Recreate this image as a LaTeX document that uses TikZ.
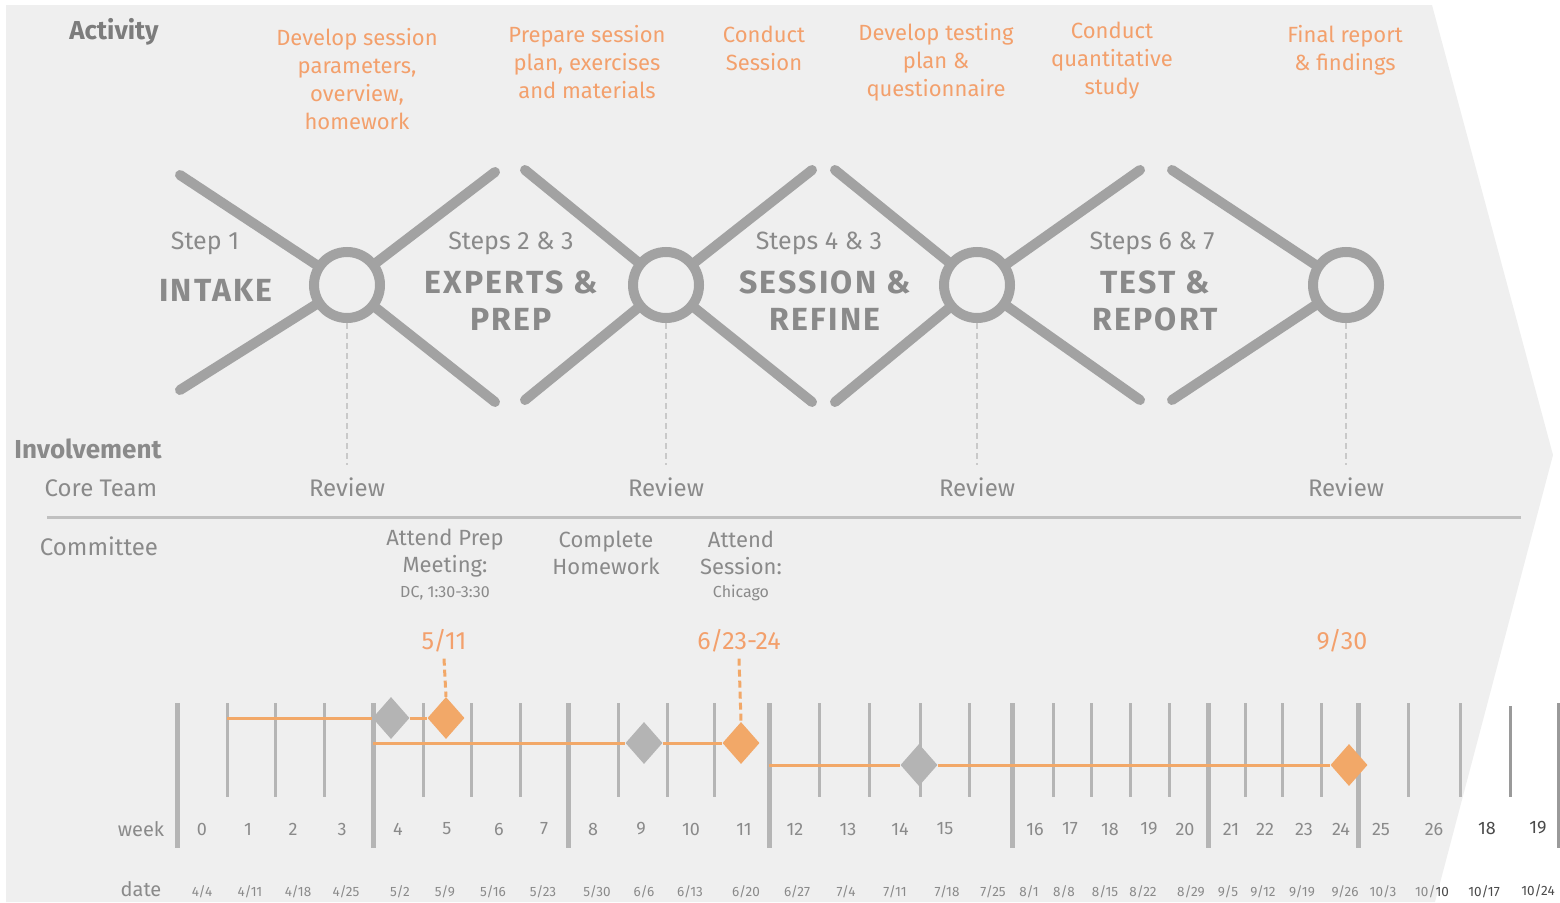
\documentclass[tikz,border=0pt]{standalone}
\usepackage{fontspec}
\setmainfont{Fira Sans}
\usetikzlibrary{shapes.geometric}

\definecolor{panelgray}{HTML}{EFEFEF}
\definecolor{armgray}{HTML}{A2A2A2}
\definecolor{labelgray}{HTML}{8A8A8A}
\definecolor{tickgray}{HTML}{B5B5B5}
\definecolor{darktick}{HTML}{9A9A9A}
\definecolor{dashgray}{HTML}{C9C9C9}
\definecolor{planorange}{HTML}{F2A868}
\definecolor{noteorange}{HTML}{F3A06C}
\definecolor{markgray}{HTML}{B4B4B4}
\definecolor{darklabel}{HTML}{4A4A4A}

\begin{document}
\begin{tikzpicture}[x=1pt, y=-1pt,
    activity/.style={text=noteorange, align=center, inner sep=0pt, font=\fontsize{22}{28}\selectfont},
    heading/.style={text=labelgray, inner sep=0pt, font=\fontsize{24}{28}\selectfont},
    steplabel/.style={text=labelgray, inner sep=0pt, font=\fontsize{25}{30}\selectfont},
    phase/.style={text=labelgray, align=center, inner sep=0pt, font=\fontsize{32}{37}\selectfont\bfseries\addfontfeatures{LetterSpace=7}},
    arm/.style={armgray, line width=10pt, line cap=round},
    hub/.style={circle, draw=armgray, fill=panelgray, line width=10pt, minimum size=66pt, inner sep=0pt},
    reviewlink/.style={dashgray, line width=2pt, dash pattern=on 6pt off 4pt, shorten >=12pt},
    task/.style={text=labelgray, align=center, inner sep=0pt, font=\fontsize{22}{27}\selectfont},
    smallnote/.style={text=labelgray, inner sep=0pt, font=\fontsize{16}{18}\selectfont},
    bigtick/.style={tickgray, line width=5pt},
    smalltick/.style={tickgray, line width=3pt},
    planline/.style={planorange, line width=3pt},
    milestone/.style={diamond, fill=#1, minimum width=37pt, minimum height=42pt, inner sep=0pt},
    datelink/.style={planorange, line width=3pt, dash pattern=on 7pt off 4pt},
    weeknum/.style={text=labelgray, inner sep=0pt, font=\fontsize{18}{20}\selectfont},
    daynum/.style={text=labelgray, inner sep=0pt, font=\fontsize{13.5}{15}\selectfont},
    keydate/.style={text=noteorange, inner sep=0pt, font=\fontsize{25}{28}\selectfont}]

    % panel
    \useasboundingbox (0,0) rectangle (1560,902);
    \fill[panelgray] (6,5) -- (1432,5) -- (1553,455) -- (1435,902) -- (6,902) -- cycle;

    % activity row
    \node[heading, font=\fontsize{26}{28}\selectfont\bfseries, text=labelgray!90!black] (activity) at (114,32) {Activity};
    \node[activity] (a1) at (357,79) {Develop session\\parameters,\\overview,\\homework};
    \node[activity] (a2) at (587,62) {Prepare session\\plan, exercises\\and materials};
    \node[activity] (a3) at (764,48) {Conduct\\Session};
    \node[activity] (a4) at (936,62) {Develop testing\\plan \&\\questionnaire};
    \node[activity] (a5) at (1112,61) {Conduct\\quantitative\\study};
    \node[activity] (a6) at (1345,50) {Final report\\\& findings};

    % hubs and arms
    \coordinate (c1) at (347,285);
    \coordinate (c2) at (666,285);
    \coordinate (c3) at (977,285);
    \coordinate (c4) at (1346,285);
    \draw[arm] (180,175) -- (c1) -- (495,172);
    \draw[arm] (180,390) -- (c1) -- (495,402);
    \draw[arm] (525,170) -- (c2) -- (812,170);
    \draw[arm] (525,400) -- (c2) -- (812,402);
    \draw[arm] (835,170) -- (c3) -- (1140,170);
    \draw[arm] (835,402) -- (c3) -- (1140,400);
    \draw[arm] (1172,170) -- (c4);
    \draw[arm] (1172,400) -- (c4);
    \node[hub] (h1) at (c1) {};
    \node[hub] (h2) at (c2) {};
    \node[hub] (h3) at (c3) {};
    \node[hub] (h4) at (c4) {};

    % steps
    \node[steplabel] (s1) at (205,243) {Step 1};
    \node[phase] (p1) at (216,290) {INTAKE};
    \node[steplabel] (s2) at (511,243) {Steps 2 \& 3};
    \node[phase] (p2) at (511,301) {EXPERTS \&\\PREP};
    \node[steplabel] (s3) at (819,243) {Steps 4 \& 3};
    \node[phase] (p3) at (825,301) {SESSION \&\\REFINE};
    \node[steplabel] (s4) at (1152,243) {Steps 6 \& 7};
    \node[phase] (p4) at (1155,301) {TEST \&\\REPORT};

    % involvement
    \node[heading, font=\fontsize{26}{28}\selectfont\bfseries] (involve) at (88,449) {Involvement};
    \node[heading] (core) at (101,488) {Core Team};
    \node[heading] (r1) at (347,487) {Review};
    \node[heading] (r2) at (666,487) {Review};
    \node[heading] (r3) at (977,487) {Review};
    \node[heading] (r4) at (1346,487) {Review};
    \foreach \i in {1,...,4}
        \draw[reviewlink] (h\i.south) -- (r\i.north);
    \draw[tickgray!85, line width=3pt] (47,517) -- (1521,517);

    \node[heading] (committee) at (99,546) {Committee};
    \node[task] (k1) at (445,553) {Attend Prep\\Meeting:};
    \node[smallnote] (k1n) at (445,593) {DC, 1:30-3:30};
    \node[task] (k2) at (606,553) {Complete\\Homework};
    \node[task] (k3) at (741,553) {Attend\\Session:};
    \node[smallnote] (k3n) at (741,593) {Chicago};

    % timeline ticks
    \foreach \x in {177,373,568,769,1012,1208,1358}
        \draw[bigtick] (\x,703) -- (\x,848);
    \foreach \x in {227,275,324,423,471,520,618,667,714,819,869,920,969,1053,1091,1130,1169,1245,1282,1321,1408,1460}
        \draw[smalltick] (\x,703) -- (\x,797);
    \draw[darktick, line width=3pt] (1510,706) -- (1510,797);
    \draw[darktick, line width=4pt] (1559,703) -- (1559,848);

    % plan bars and milestones
    \coordinate (b1) at (227,718);
    \coordinate (b2) at (373,743);
    \coordinate (b3) at (769,765);
    \node[milestone=markgray] (g1) at (391,718) {};
    \node[milestone=planorange] (m1) at (446,718) {};
    \node[milestone=markgray] (g2) at (644,743) {};
    \node[milestone=planorange] (m2) at (741,743) {};
    \node[milestone=markgray] (g3) at (919,765) {};
    \node[milestone=planorange] (m3) at (1349,765) {};
    \draw[planline] (b1) -- (g1.west);
    \draw[planline] (g1.east) -- (m1.west);
    \draw[planline] (b2) -- (g2.west);
    \draw[planline] (g2.east) -- (m2.west);
    \draw[planline] (b3) -- (g3.west);
    \draw[planline] (g3.east) -- (m3.west);

    % key dates
    \node[keydate] (kd1) at (444,641) {5/11};
    \node[keydate] (kd2) at (739,641) {6/23-24};
    \node[keydate] (kd3) at (1342,641) {9/30};
    \draw[datelink] ([yshift=-6pt]kd1.south) -- (m1.north);
    \draw[datelink] ([yshift=-6pt]kd2.south) -- (m2.north);

    % week numbers
    \node[weeknum, font=\fontsize{20}{22}\selectfont] (weeklabel) at (141,829) {week};
    \foreach \x/\w in {202/0,248/1,293/2,342/3,398/4,447/5,499/6,544/7,593/8,641/9,691/10,744/11,795/12,848/13,900/14,945/15,1035/16,1070/17,1110/18,1149/19,1185/20,1231/21,1265/22,1304/23,1341/24,1381/25,1434/26}
        \node[weeknum] (w\w) at (\x,829) {\w};
    \node[weeknum, text=darklabel] (wa) at (1487,828) {18};
    \node[weeknum, text=darklabel] (wb) at (1538,828) {19};

    % dates
    \node[weeknum, font=\fontsize{20}{22}\selectfont] (datelabel) at (141,889) {date};
    \foreach \x/\m/\d in {202/4/4,250/4/11,298/4/18,346/4/25,400/5/2,445/5/9,493/5/16,543/5/23,597/5/30,644/6/6,690/6/13,746/6/20,797/6/27,846/7/4,895/7/11,947/7/18,993/7/25,1029/8/1,1064/8/8,1105/8/15,1143/8/22,1191/8/29,1228/9/5,1263/9/12,1302/9/19,1345/9/26,1383/10/3}
        \node[daynum] (d\m-\d) at (\x,892) {\m/\d};
    \node[daynum] (dx) at (1432,892) {10/\textcolor{darklabel}{10}};
    \node[daynum, text=darklabel] (dy) at (1484,892) {10/17};
    \node[daynum, text=darklabel] (dz) at (1538,891) {10/24};
\end{tikzpicture}
\end{document}
